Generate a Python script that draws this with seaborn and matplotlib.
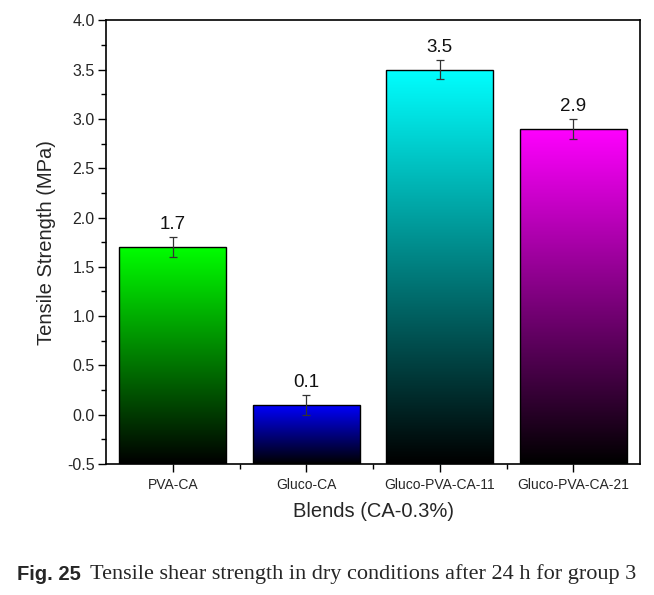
import numpy as np
import pandas as pd
import matplotlib
matplotlib.use("Agg")
import matplotlib.pyplot as plt
import seaborn as sns
from matplotlib.ticker import MultipleLocator, FixedLocator
from matplotlib.colors import to_rgb

categories = ["PVA-CA", "Gluco-CA", "Gluco-PVA-CA-11", "Gluco-PVA-CA-21"]
strength = [1.7, 0.1, 3.5, 2.9]
errors = [0.1, 0.1, 0.1, 0.1]
labels = ["1.7", "0.1", "3.5", "2.9"]
colors = ["#00ff00", "#0000ff", "#00ffff", "#ff00ff"]

sns.set_style("ticks")
plt.rcParams['font.family'] = ['Liberation Sans', 'DejaVu Sans']

fig = plt.figure(figsize=(6.54, 5.95), dpi=100)
ax = fig.add_axes([0.162, 0.220, 0.817, 0.746])

df = pd.DataFrame({"blend": categories, "value": strength})
sns.barplot(data=df, x="blend", y="value", hue="blend", palette=colors,
            legend=False, width=0.8, ax=ax, edgecolor="black", linewidth=1.0,
            errorbar=None)

ymin, ymax = -0.5, 4.0
for patch, c in zip(ax.patches, colors):
    h = patch.get_height()
    patch.set_y(ymin)
    patch.set_height(h - ymin)
    x0 = patch.get_x()
    x1 = x0 + patch.get_width()
    top = np.array(to_rgb(c))
    t = np.linspace(0, 1, 256)[:, None]
    grad = (1 - t) * top[None, :]
    grad = grad[:, None, :]
    im = ax.imshow(grad, extent=[x0, x1, ymin, h], aspect="auto",
                   interpolation="bilinear", zorder=1.5)
    im.set_clip_path(patch)
    patch.set_facecolor("none")
    patch.set_zorder(2)

xpos = np.arange(len(categories))
ax.errorbar(xpos, strength, yerr=errors, fmt="none", ecolor="#333333",
            elinewidth=0.9, capsize=3, capthick=0.9, zorder=3)

for x, v, e, lab in zip(xpos, strength, errors, labels):
    ax.text(x, v + e + 0.04, lab, ha="center", va="bottom", fontsize=13.5,
            color="#111111")

ax.set_xlim(-0.5, 3.5)
ax.set_ylim(ymin, ymax)
ax.yaxis.set_minor_locator(MultipleLocator(0.25))
ax.xaxis.set_minor_locator(FixedLocator([0.5, 1.5, 2.5]))
ax.tick_params(axis="both", which="major", direction="out", length=6, width=1,
               color="black")
ax.tick_params(axis="both", which="minor", direction="out", length=3.5, width=1,
               color="black")
ax.tick_params(axis="y", labelsize=11.5, pad=2)
ax.tick_params(axis="x", labelsize=10, pad=4)
yt = np.arange(-0.5, 4.01, 0.5)
ax.set_yticks(yt)
ax.set_yticklabels([f"{v:.1f}" for v in yt])

for s in ax.spines.values():
    s.set_visible(True)
    s.set_linewidth(1.2)
    s.set_color("black")

ax.set_xlabel("Blends (CA-0.3%)", fontsize=14.5, labelpad=7)
ax.set_ylabel("Tensile Strength (MPa)", fontsize=14.5, labelpad=8)

fig.text(0.026, 0.035, "Fig. 25", fontsize=14.5, fontweight="bold",
         fontstretch="condensed",
         family=["Liberation Sans Narrow", "Liberation Sans", "DejaVu Sans"],
         ha="left", va="center")
fig.text(0.138, 0.035, "Tensile shear strength in dry conditions after 24 h for group 3",
         fontsize=16, family=["Liberation Serif", "DejaVu Serif"],
         ha="left", va="center")

fig.savefig("out.png", dpi=100)
